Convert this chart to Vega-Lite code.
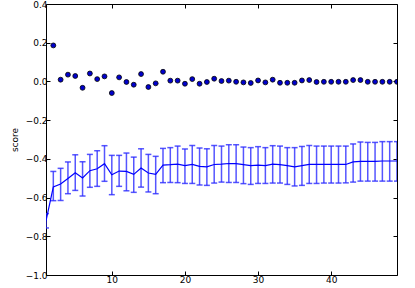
{
  "$schema": "https://vega.github.io/schema/vega-lite/v6.json",
  "width": 351,
  "height": 271,
  "autosize": {"type": "none"},
  "padding": {"left": 46, "top": 4, "right": 18, "bottom": 13},
  "background": "white",
  "config": {
    "view": {"stroke": "black", "strokeWidth": 1},
    "font": "DejaVu Sans",
    "axis": {
      "grid": false,
      "domain": false,
      "tickColor": "black",
      "labelColor": "black",
      "labelFont": "DejaVu Sans",
      "labelFontSize": 9,
      "tickSize": -4,
      "labelPadding": 3,
      "titleFont": "DejaVu Sans",
      "titleFontWeight": "normal",
      "titleFontSize": 9,
      "titleColor": "black"
    }
  },
  "datasets": {
    "pts": [
      {"k": 2, "s": 0.186}, {"k": 3, "s": 0.009}, {"k": 4, "s": 0.035}, {"k": 5, "s": 0.028},
      {"k": 6, "s": -0.033}, {"k": 7, "s": 0.041}, {"k": 8, "s": 0.012}, {"k": 9, "s": 0.026},
      {"k": 10, "s": -0.06}, {"k": 11, "s": 0.021}, {"k": 12, "s": -0.003}, {"k": 13, "s": -0.017},
      {"k": 14, "s": 0.038}, {"k": 15, "s": -0.029}, {"k": 16, "s": -0.01}, {"k": 17, "s": 0.05},
      {"k": 18, "s": 0.004}, {"k": 19, "s": 0.004}, {"k": 20, "s": -0.012}, {"k": 21, "s": 0.012},
      {"k": 22, "s": -0.012}, {"k": 23, "s": -0.003}, {"k": 24, "s": 0.014}, {"k": 25, "s": 0.002},
      {"k": 26, "s": 0.004}, {"k": 27, "s": -0.002}, {"k": 28, "s": -0.005}, {"k": 29, "s": -0.008},
      {"k": 30, "s": 0.005}, {"k": 31, "s": -0.005}, {"k": 32, "s": 0.009}, {"k": 33, "s": -0.007},
      {"k": 34, "s": -0.007}, {"k": 35, "s": -0.007}, {"k": 36, "s": 0.005}, {"k": 37, "s": 0.007},
      {"k": 38, "s": -0.003}, {"k": 39, "s": -0.002}, {"k": 40, "s": -0.002}, {"k": 41, "s": -0.002},
      {"k": 42, "s": -0.002}, {"k": 43, "s": 0.007}, {"k": 44, "s": 0.007}, {"k": 45, "s": -0.002},
      {"k": 46, "s": -0.002}, {"k": 47, "s": -0.002}, {"k": 48, "s": -0.002}, {"k": 49, "s": -0.002}
    ],
    "cv": [
      {"k": 1, "m": -0.72, "lo": -0.757, "hi": -0.683},
      {"k": 2, "m": -0.545, "lo": -0.616, "hi": -0.465},
      {"k": 3, "m": -0.53, "lo": -0.615, "hi": -0.449},
      {"k": 4, "m": -0.501, "lo": -0.58, "hi": -0.416},
      {"k": 5, "m": -0.472, "lo": -0.563, "hi": -0.379},
      {"k": 6, "m": -0.499, "lo": -0.592, "hi": -0.415},
      {"k": 7, "m": -0.461, "lo": -0.547, "hi": -0.377},
      {"k": 8, "m": -0.451, "lo": -0.542, "hi": -0.358},
      {"k": 9, "m": -0.425, "lo": -0.516, "hi": -0.332},
      {"k": 10, "m": -0.482, "lo": -0.585, "hi": -0.382},
      {"k": 11, "m": -0.463, "lo": -0.542, "hi": -0.382},
      {"k": 12, "m": -0.465, "lo": -0.565, "hi": -0.37},
      {"k": 13, "m": -0.48, "lo": -0.573, "hi": -0.391},
      {"k": 14, "m": -0.447, "lo": -0.546, "hi": -0.348},
      {"k": 15, "m": -0.473, "lo": -0.571, "hi": -0.377},
      {"k": 16, "m": -0.48, "lo": -0.58, "hi": -0.387},
      {"k": 17, "m": -0.432, "lo": -0.523, "hi": -0.346},
      {"k": 18, "m": -0.43, "lo": -0.522, "hi": -0.342},
      {"k": 19, "m": -0.427, "lo": -0.523, "hi": -0.334},
      {"k": 20, "m": -0.435, "lo": -0.527, "hi": -0.349},
      {"k": 21, "m": -0.429, "lo": -0.527, "hi": -0.331},
      {"k": 22, "m": -0.439, "lo": -0.535, "hi": -0.344},
      {"k": 23, "m": -0.441, "lo": -0.537, "hi": -0.348},
      {"k": 24, "m": -0.429, "lo": -0.525, "hi": -0.331},
      {"k": 25, "m": -0.427, "lo": -0.52, "hi": -0.334},
      {"k": 26, "m": -0.424, "lo": -0.522, "hi": -0.327},
      {"k": 27, "m": -0.425, "lo": -0.522, "hi": -0.327},
      {"k": 28, "m": -0.43, "lo": -0.528, "hi": -0.339},
      {"k": 29, "m": -0.435, "lo": -0.532, "hi": -0.342},
      {"k": 30, "m": -0.432, "lo": -0.527, "hi": -0.337},
      {"k": 31, "m": -0.435, "lo": -0.527, "hi": -0.342},
      {"k": 32, "m": -0.427, "lo": -0.525, "hi": -0.332},
      {"k": 33, "m": -0.43, "lo": -0.525, "hi": -0.334},
      {"k": 34, "m": -0.435, "lo": -0.532, "hi": -0.342},
      {"k": 35, "m": -0.441, "lo": -0.54, "hi": -0.342},
      {"k": 36, "m": -0.435, "lo": -0.537, "hi": -0.336},
      {"k": 37, "m": -0.429, "lo": -0.527, "hi": -0.331},
      {"k": 38, "m": -0.429, "lo": -0.527, "hi": -0.334},
      {"k": 39, "m": -0.429, "lo": -0.525, "hi": -0.334},
      {"k": 40, "m": -0.429, "lo": -0.525, "hi": -0.334},
      {"k": 41, "m": -0.429, "lo": -0.525, "hi": -0.334},
      {"k": 42, "m": -0.429, "lo": -0.524, "hi": -0.334},
      {"k": 43, "m": -0.416, "lo": -0.52, "hi": -0.323},
      {"k": 44, "m": -0.413, "lo": -0.515, "hi": -0.313},
      {"k": 45, "m": -0.413, "lo": -0.515, "hi": -0.315},
      {"k": 46, "m": -0.413, "lo": -0.515, "hi": -0.315},
      {"k": 47, "m": -0.411, "lo": -0.515, "hi": -0.311},
      {"k": 48, "m": -0.411, "lo": -0.515, "hi": -0.311},
      {"k": 49, "m": -0.411, "lo": -0.515, "hi": -0.311}
    ]
  },
  "layer": [
    {
      "data": {"name": "cv"},
      "mark": {
        "type": "errorbar",
        "clip": true,
        "color": "#2a2aff",
        "opacity": 0.8,
        "thickness": 1.5,
        "ticks": {"size": 6, "strokeWidth": 1.5},
        "rule": {"strokeWidth": 1.5}
      },
      "encoding": {
        "x": {"field": "k", "type": "quantitative", "scale": {"domain": [1, 49], "nice": false, "zero": false},
              "axis": {"values": [10, 20, 30, 40], "format": "d", "title": null, "labelPadding": 4}},
        "y": {"field": "lo", "type": "quantitative", "scale": {"domain": [-1.0, 0.4], "nice": false, "zero": false},
              "axis": {"values": [-1.0, -0.8, -0.6, -0.4, -0.2, 0.0, 0.2, 0.4], "format": ".1f", "title": "score", "titlePadding": 6}},
        "y2": {"field": "hi"}
      }
    },
    {
      "data": {"name": "cv"},
      "mark": {"type": "line", "clip": true, "color": "#0000ff", "strokeWidth": 1.2},
      "encoding": {
        "x": {"field": "k", "type": "quantitative", "axis": {"orient": "top", "values": [10, 20, 30, 40], "labels": false, "title": null}},
        "y": {"field": "m", "type": "quantitative", "axis": {"orient": "right", "values": [-1.0, -0.8, -0.6, -0.4, -0.2, 0.0, 0.2, 0.4], "labels": false, "title": null}}
      }
    },
    {
      "data": {"name": "pts"},
      "mark": {"type": "point", "filled": true, "clip": true, "size": 24, "color": "#0000cc", "stroke": "#000000", "strokeWidth": 0.8, "opacity": 1},
      "encoding": {
        "x": {"field": "k", "type": "quantitative", "axis": null},
        "y": {"field": "s", "type": "quantitative", "axis": null}
      }
    }
  ],
  "resolve": {"axis": {"x": "independent", "y": "independent"}}
}
